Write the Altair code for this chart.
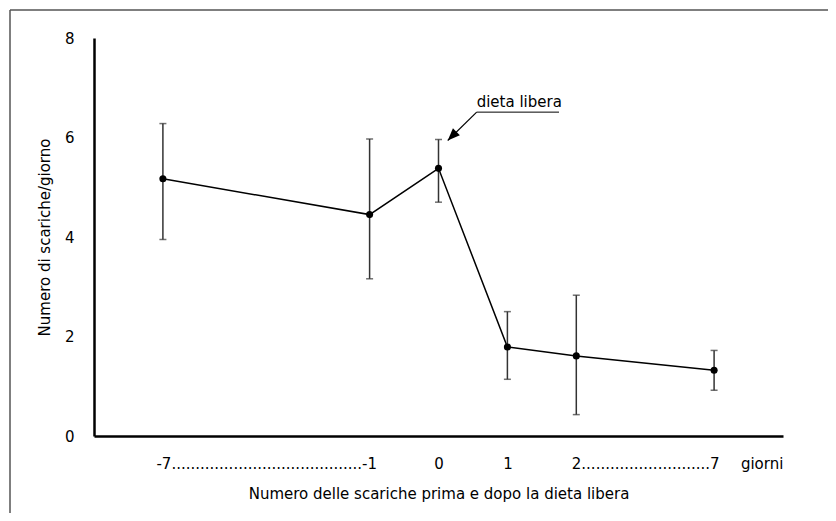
import altair as alt
import pandas as pd

# --- data ---
giorni = ["-7", "-1", "0", "1", "2", "7"]
posizione = [0, 3, 4, 5, 6, 8]          # slot along the compressed x axis
media = [5.17, 4.45, 5.38, 1.79, 1.61, 1.32]
sup = [6.28, 5.97, 5.96, 2.50, 2.83, 1.72]
inf = [3.95, 3.16, 4.70, 1.14, 0.43, 0.92]

tick_pos = [1.5, 4, 5, 7, 8.69]
tick_lab = ["-7" + "." * 40 + "-1", "0", "1", "2" + "." * 27 + "7", "giorni"]

# annotation (data coordinates)
ann_text = "dieta libera"
ann_x0, ann_y0 = 4.554, 6.51      # start of underline / shaft
ann_x1 = 5.749                    # end of underline
tip_x, tip_y = 4.134, 5.94        # arrow tip

FONT = "DejaVu Sans"
FS = 15

df = pd.DataFrame({"g": giorni, "x": posizione, "m": media, "hi": sup, "lo": inf})

label_expr = " : ".join(
    f"datum.value == {p} ? '{l}'" for p, l in zip(tick_pos, tick_lab)
) + " : ''"

xs = alt.Scale(domain=[-1, 9], nice=False, zero=False)
ys = alt.Scale(domain=[0, 8], nice=False)

x_enc = alt.X("x:Q", scale=xs, axis=alt.Axis(
    values=tick_pos, labelExpr=label_expr, ticks=False, grid=False,
    domainColor="black", domainWidth=2.5, labelPadding=20, labelFlush=False,
    labelOverlap=False, labelLimit=1000, labelFont=FONT, labelFontSize=FS,
    labelColor="black",
    title="Numero delle scariche prima e dopo la dieta libera",
    titleFont=FONT, titleFontSize=FS, titleFontWeight="normal", titleColor="black",
    titlePadding=15))
y_enc = alt.Y("m:Q", scale=ys, axis=alt.Axis(
    values=[0, 2, 4, 6, 8], ticks=False, grid=False, domainColor="black",
    domainWidth=2.5, labelPadding=20, labelFont=FONT, labelFontSize=FS,
    labelColor="black", title="Numero di scariche/giorno", titleFont=FONT,
    titleFontSize=FS, titleFontWeight="normal", titleColor="black", titlePadding=12))

base = alt.Chart(df)
line = base.mark_line(color="black", strokeWidth=1.5).encode(x=x_enc, y=y_enc)
pts = base.mark_circle(color="black", opacity=1, size=50).encode(x="x:Q", y="m:Q")
err = base.mark_rule(color="#333333", strokeWidth=1.5).encode(x="x:Q", y="lo:Q", y2="hi:Q")
cap_hi = base.mark_tick(color="#333333", thickness=1.5, size=7, orient="horizontal").encode(x="x:Q", y="hi:Q")
cap_lo = base.mark_tick(color="#333333", thickness=1.5, size=7, orient="horizontal").encode(x="x:Q", y="lo:Q")

ann = pd.DataFrame({"t": [ann_text], "x0": [ann_x0], "y0": [ann_y0], "x1": [ann_x1],
                    "tx": [tip_x], "ty": [tip_y]})
abase = alt.Chart(ann)
a_text = abase.mark_text(align="left", baseline="bottom", dy=-2, font=FONT, fontSize=FS,
                         color="black").encode(x="x0:Q", y="y0:Q", text="t:N")
a_under = abase.mark_rule(color="black", strokeWidth=1).encode(x="x0:Q", x2="x1:Q", y="y0:Q")
a_shaft = abase.mark_rule(color="black", strokeWidth=1.2).encode(x="x0:Q", y="y0:Q", x2="tx:Q", y2="ty:Q")
a_head = abase.mark_point(shape="M0,0 L-0.4,1 L0.4,1 Z", filled=True, color="black",
                          opacity=1, size=600, angle=225).encode(x="tx:Q", y="ty:Q")

# outer frame lines (decoration, pixel positions relative to plot)
frame_top = alt.Chart(ann).mark_rule(color="#555555", strokeWidth=1.5).encode(
    x=alt.value(-84), x2=alt.value(760), y=alt.value(-28))
frame_left = alt.Chart(ann).mark_rule(color="#555555", strokeWidth=1.5).encode(
    x=alt.value(-84), y=alt.value(-28), y2=alt.value(500))

chart = alt.layer(
    frame_top, frame_left, line, err, cap_hi, cap_lo, pts, a_under, a_shaft, a_head, a_text
).properties(
    width=689, height=398,
    autosize=alt.AutoSizeParams(type="none"),
    padding={"left": 86, "top": 30, "right": 45, "bottom": 77},
    background="white",
).configure_view(stroke=None)

chart.save("out.html", embed_options={"renderer": "svg", "actions": False})
